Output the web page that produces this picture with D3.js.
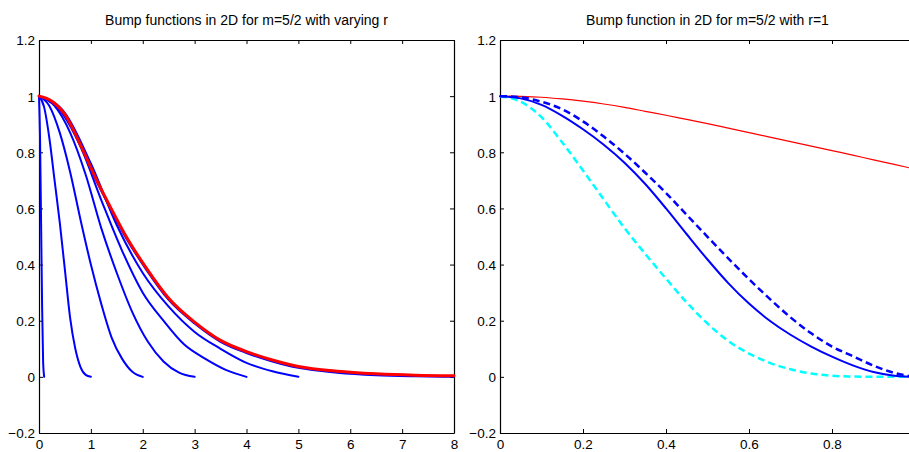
<!DOCTYPE html>
<html>
<head>
<meta charset="utf-8">
<script src="https://cdn.jsdelivr.net/npm/d3@7/dist/d3.min.js"></script>
<style>
  html, body { margin: 0; padding: 0; background: #fff; }
  svg { display: block; }
  text { font-family: "Liberation Sans", Arial, Helvetica, sans-serif; fill: #000; }
</style>
</head>
<body>
<svg id="chart" width="909" height="452"></svg>
<script>
// ---------------- DATA ----------------
const leftTitle = "Bump functions in 2D for m=5/2 with varying r";
const rightTitle = "Bump function in 2D for m=5/2 with r=1";

const leftXTicks = [0, 1, 2, 3, 4, 5, 6, 7, 8];
const yTicks = [-0.2, 0, 0.2, 0.4, 0.6, 0.8, 1, 1.2];
const rightXTicks = [0, 0.2, 0.4, 0.6, 0.8];

// Left panel: limit curve (red) and a wide-support bump (blue, under red)
const limitX = [0, 0.25, 0.5, 0.84, 1.1, 1.39, 1.68, 2.06, 2.5, 3.0, 3.5, 4.0, 4.5, 5.0, 5.75, 6.5, 7.25, 8];
const limitY = [1, 0.982, 0.935, 0.81, 0.705, 0.60, 0.50, 0.39, 0.28, 0.195, 0.13, 0.09, 0.06, 0.037, 0.02, 0.011, 0.006, 0.004];
const wideBumpY = [1, 0.981, 0.933, 0.806, 0.700, 0.594, 0.494, 0.384, 0.274, 0.19, 0.125, 0.085, 0.055, 0.032, 0.015, 0.006, 0.002, 0];

// Left panel: bumps with support radius r
const bumpR01X = [0, 0.02, 0.04, 0.06, 0.08, 0.1];
const bumpR01Y = [1, 0.85, 0.55, 0.25, 0.05, 0];
const bumpR1X = [0, 0.1, 0.2, 0.3, 0.4, 0.5, 0.6, 0.7, 0.8, 0.9, 1];
const bumpR1Y = [1, 0.96, 0.85, 0.70, 0.55, 0.38, 0.21, 0.10, 0.035, 0.007, 0];
const bumpR2X = [0, 0.2, 0.4, 0.6, 0.8, 1.0, 1.2, 1.4, 1.6, 1.8, 2];
const bumpR2Y = [1, 0.965, 0.87, 0.73, 0.56, 0.40, 0.26, 0.14, 0.065, 0.018, 0];
const bumpR3X = [0, 0.3, 0.6, 0.9, 1.2, 1.5, 1.8, 2.1, 2.4, 2.7, 3];
const bumpR3Y = [1, 0.965, 0.87, 0.72, 0.53, 0.37, 0.23, 0.125, 0.055, 0.015, 0];
const bumpR4X = [0, 0.4, 0.8, 1.2, 1.6, 2.0, 2.4, 2.8, 3.2, 3.6, 4];
const bumpR4Y = [1, 0.95, 0.82, 0.63, 0.45, 0.30, 0.20, 0.115, 0.065, 0.025, 0];
const bumpR5X = [0, 0.5, 1.0, 1.5, 2.0, 2.5, 3.0, 3.5, 4.0, 4.5, 5];
const bumpR5Y = [1, 0.94, 0.76, 0.54, 0.37, 0.25, 0.16, 0.10, 0.05, 0.02, 0];

// Right panel (r = 1)
const rightX = [0, 0.05, 0.1, 0.15, 0.2, 0.25, 0.3, 0.35, 0.4, 0.45, 0.5, 0.55, 0.6, 0.65, 0.7, 0.75, 0.8, 0.85, 0.9, 0.95, 1];
const limitRightY = [1, 0.999, 0.996, 0.99, 0.982, 0.972, 0.96, 0.946, 0.932, 0.917, 0.902, 0.886, 0.87, 0.854, 0.838, 0.822, 0.806, 0.79, 0.773, 0.757, 0.74];
const bumpSolidY = [1, 0.992, 0.969, 0.93, 0.882, 0.827, 0.763, 0.687, 0.6, 0.508, 0.418, 0.334, 0.261, 0.2, 0.15, 0.108, 0.072, 0.041, 0.017, 0.004, 0];
const bumpDashY = [1, 0.996, 0.98, 0.953, 0.91, 0.856, 0.795, 0.727, 0.655, 0.577, 0.499, 0.422, 0.348, 0.278, 0.212, 0.155, 0.108, 0.074, 0.04, 0.014, 0];
const bumpCyanY = [1, 0.98, 0.925, 0.835, 0.735, 0.632, 0.53, 0.438, 0.35, 0.265, 0.19, 0.128, 0.083, 0.05, 0.027, 0.012, 0.004, 0.001, 0, 0, 0];

// ---------------- DRAWING ----------------
const svg = d3.select("#chart");
const fmt = v => (Math.abs(v) < 1e-9 ? "0" : d3.format("")(+v.toFixed(1))).replace("-", "\u2212");

function panel(opts) {
  const { x0, x1, y0, y1, xDomain, xTicks, title } = opts;
  const x = d3.scaleLinear().domain(xDomain).range([x0, x1]);
  const y = d3.scaleLinear().domain([-0.2, 1.2]).range([y1, y0]);
  const g = svg.append("g");

  const tick = 4;
  const axB = d3.axisBottom(x).tickValues(xTicks).tickSizeInner(-tick).tickSizeOuter(0).tickFormat(fmt);
  const gB = g.append("g").attr("transform", `translate(0,${y1})`).call(axB);
  const axT = d3.axisTop(x).tickValues(xTicks).tickSizeInner(-tick).tickSizeOuter(0).tickFormat("");
  const gT = g.append("g").attr("transform", `translate(0,${y0})`).call(axT);
  const axL = d3.axisLeft(y).tickValues(yTicks).tickSizeInner(-tick).tickSizeOuter(0).tickFormat(fmt).tickPadding(4);
  const gL = g.append("g").attr("transform", `translate(${x0},0)`).call(axL);
  const axR = d3.axisRight(y).tickValues(yTicks).tickSizeInner(-tick).tickSizeOuter(0).tickFormat("");
  const gR = g.append("g").attr("transform", `translate(${x1},0)`).call(axR);

  [gB, gT, gL, gR].forEach(a => {
    a.selectAll(".domain").attr("stroke", "#000").attr("stroke-width", 1.2);
    a.selectAll(".tick line").attr("stroke", "#000").attr("stroke-width", 1);
    a.selectAll("text").attr("font-size", 13.5).attr("font-family", '"Liberation Sans", Arial, sans-serif').attr("fill", "#000");
  });
  gB.selectAll(".tick text").attr("dy", null).attr("y", 448.5 - y1);
  gL.selectAll(".tick text").attr("dy", "0.36em");

  g.append("text").attr("x", (x0 + x1) / 2).attr("y", 25).attr("text-anchor", "middle")
    .attr("font-size", 14).text(title);

  return { g, x, y };
}

function drawLine(p, xs, ys, color, width, dash) {
  const pts = xs.map((d, i) => [d, ys[i]]);
  const line = d3.line().x(d => p.x(d[0])).y(d => p.y(d[1])).curve(d3.curveMonotoneX);
  const path = p.g.append("path").datum(pts).attr("d", line)
    .attr("fill", "none").attr("stroke", color).attr("stroke-width", width)
    .attr("stroke-linejoin", "round").attr("stroke-linecap", dash ? "butt" : "round");
  if (dash) path.attr("stroke-dasharray", dash);
  return path;
}

// Left panel
const L = panel({ x0: 39, x1: 454, y0: 40, y1: 433, xDomain: [0, 8], xTicks: leftXTicks, title: leftTitle });
const blue = "#0000ff";
drawLine(L, bumpR01X, bumpR01Y, blue, 2);
drawLine(L, bumpR1X, bumpR1Y, blue, 2);
drawLine(L, bumpR2X, bumpR2Y, blue, 2);
drawLine(L, bumpR3X, bumpR3Y, blue, 2);
drawLine(L, bumpR4X, bumpR4Y, blue, 2);
drawLine(L, bumpR5X, bumpR5Y, blue, 2);
drawLine(L, limitX, wideBumpY, blue, 2);
drawLine(L, limitX, limitY, "#ff0000", 3);

// Right panel
const R = panel({ x0: 500, x1: 915, y0: 40, y1: 433, xDomain: [0, 1], xTicks: rightXTicks, title: rightTitle });
drawLine(R, rightX, limitRightY, "#ff0000", 1.2);
drawLine(R, rightX, bumpCyanY, "#00ffff", 2.5, "7,4");
drawLine(R, rightX, bumpDashY, blue, 2.5, "7,4");
drawLine(R, rightX, bumpSolidY, blue, 2);
</script>
</body>
</html>
